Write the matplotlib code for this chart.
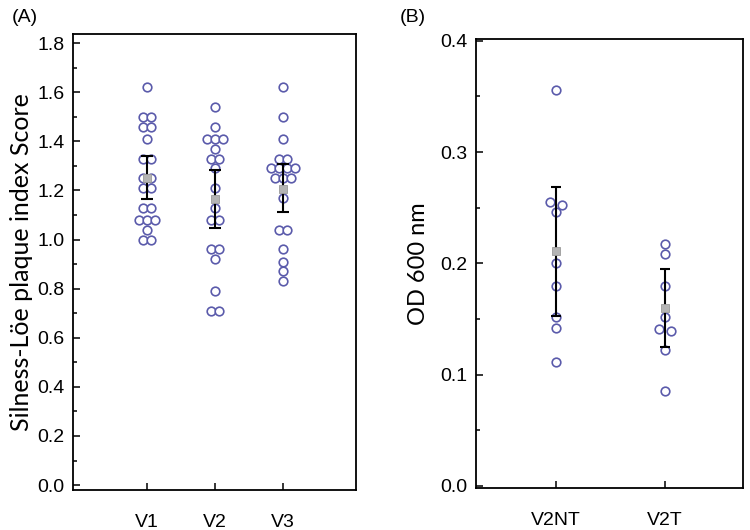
# Plaque index scores and OD600 per visit, dot plot with mean and CI
import numpy as np
import matplotlib.pyplot as plt
from matplotlib.ticker import MultipleLocator

# Panel A data
groups_a = ['V1', 'V2', 'V3']
v1 = [1.62, 1.50, 1.50, 1.46, 1.46, 1.41, 1.33, 1.33, 1.25, 1.25,
      1.21, 1.21, 1.13, 1.13, 1.08, 1.08, 1.08, 1.04, 1.00, 1.00]
v2 = [1.54, 1.46, 1.41, 1.41, 1.41, 1.37, 1.33, 1.33, 1.29, 1.21,
      1.13, 1.08, 1.08, 0.96, 0.96, 0.92, 0.79, 0.71, 0.71]
v3 = [1.62, 1.50, 1.41, 1.33, 1.33, 1.29, 1.29, 1.29, 1.29, 1.25,
      1.25, 1.25, 1.17, 1.04, 1.04, 0.96, 0.91, 0.87, 0.83]
mean_a = [1.250, 1.167, 1.207]
ci_low_a = [1.167, 1.048, 1.112]
ci_high_a = [1.340, 1.283, 1.306]

# Panel B data
groups_b = ['V2NT', 'V2T']
v2nt = [0.356, 0.255, 0.252, 0.246, 0.200, 0.180, 0.152, 0.142, 0.111]
v2t = [0.217, 0.208, 0.180, 0.152, 0.141, 0.139, 0.122, 0.085]
mean_b = [0.211, 0.160]
ci_low_b = [0.153, 0.125]
ci_high_b = [0.269, 0.195]

circle_col = '#5b5bab'
mean_col = '#b4b4b4'


def swarm(values, tol, spacing):
    # spread tied values side by side around the centre
    vals = np.sort(np.asarray(values))[::-1]
    offs = np.zeros(len(vals))
    i = 0
    while i < len(vals):
        j = i
        while j + 1 < len(vals) and vals[i] - vals[j + 1] < tol:
            j += 1
        n = j - i + 1
        offs[i:j + 1] = (np.arange(n) - (n - 1) / 2) * spacing
        i = j + 1
    return vals, offs


def panel(ax, data, means, lo, hi, tol, spacing, cap):
    for k, vals in enumerate(data):
        y, dx = swarm(vals, tol, spacing)
        ax.plot(k + 1 + dx, y, 'o', ms=6.2, mfc='white', mec=circle_col,
                mew=1.2, zorder=2, clip_on=False)
    x = np.arange(1, len(data) + 1)
    m = np.array(means)
    ax.errorbar(x, m, yerr=[m - np.array(lo), np.array(hi) - m], fmt='none',
                ecolor='black', elinewidth=1.5, capsize=cap, capthick=1.5,
                zorder=3)
    ax.plot(x, m, 's', ms=6, mfc=mean_col, mec='#9a9a9a', mew=0.6, zorder=4)
    ax.set_xticks(x)
    for s in ax.spines.values():
        s.set_linewidth(1.3)
    ax.tick_params(direction='in', which='both', width=1.1, labelsize=14,
                   labelfontfamily='Liberation Sans')
    ax.tick_params(which='major', length=5)
    ax.tick_params(which='minor', length=3)
    ax.tick_params(axis='y', pad=6)
    ax.tick_params(axis='x', pad=17)


fig = plt.figure(figsize=(7.5, 5.3), dpi=100)

ax1 = fig.add_axes([0.0973, 0.0755, 0.3773, 0.8603])
panel(ax1, [v1, v2, v3], mean_a, ci_low_a, ci_high_a, 0.01, 0.115, 4.5)
ax1.set_xlim(-0.09, 4.07)
ax1.set_ylim(-0.02, 1.837)
ax1.yaxis.set_major_locator(MultipleLocator(0.2))
ax1.yaxis.set_minor_locator(MultipleLocator(0.1))
ax1.yaxis.set_major_formatter(lambda v, p: f'{v:.1f}')
ax1.set_xticklabels(groups_a)
ax1.set_ylabel('Silness-Löe plaque index Score', fontsize=18,
               family='Lato', labelpad=3)

ax2 = fig.add_axes([0.6347, 0.0792, 0.356, 0.847])
panel(ax2, [v2nt, v2t], mean_b, ci_low_b, ci_high_b, 0.004, 0.11, 3.6)
ax2.set_xlim(0.266, 2.716)
ax2.set_ylim(-0.002, 0.4015)
ax2.yaxis.set_major_locator(MultipleLocator(0.1))
ax2.yaxis.set_minor_locator(MultipleLocator(0.05))
ax2.yaxis.set_major_formatter(lambda v, p: f'{v:.1f}')
ax2.set_xticklabels(groups_b)
ax2.set_ylabel('OD 600 nm', fontsize=17, family='Lato', labelpad=8)

fig.text(0.016, 0.967, '(A)', fontsize=14, family='Liberation Sans',
         va='center')
fig.text(0.533, 0.967, '(B)', fontsize=14, family='Liberation Sans',
         va='center')

fig.savefig('out.png', dpi=100)
